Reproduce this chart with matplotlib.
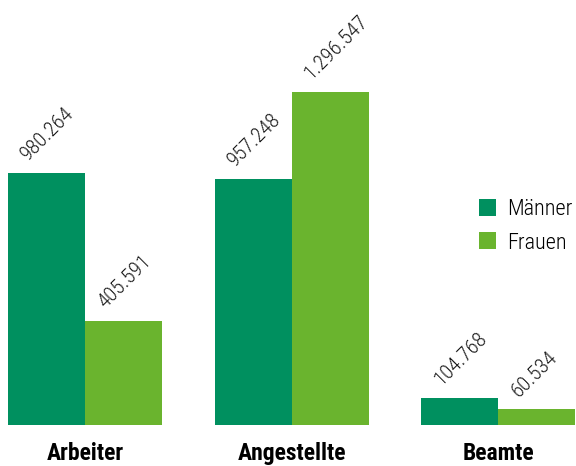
import numpy as np
import matplotlib.pyplot as plt
from matplotlib import font_manager

# data
categories = ['Arbeiter', 'Angestellte', 'Beamte']
maenner = [980264, 957248, 104768]
frauen = [405591, 1296547, 60534]
labels_m = ['980.264', '957.248', '104.768']
labels_f = ['405.591', '1.296.547', '60.534']

names = {f.name for f in font_manager.fontManager.ttflist}
fam = 'DejaVu Sans'
for cand in ['Roboto Condensed', 'Barlow Condensed', 'Archivo Narrow', 'Asap Condensed']:
    if cand in names:
        fam = cand
        break
plt.rcParams['font.family'] = [fam, 'DejaVu Sans']

c_m = '#00905F'
c_f = '#6AB42E'

fig = plt.figure(figsize=(5.76, 4.66), dpi=100)
ax = fig.add_axes([8 / 576, 41 / 466, 567 / 576, 425 / 466])

x = np.arange(len(categories))
w = 77 / 206.5
bm = ax.bar(x - w / 2, maenner, w, color=c_m, label='Männer')
bf = ax.bar(x + w / 2, frauen, w, color=c_f, label='Frauen')

ax.set_xlim(-w, 2 + w)
ax.set_ylim(0, max(frauen) * 425 / 333)

for bars, labs in ((bm, labels_m), (bf, labels_f)):
    for b, t in zip(bars, labs):
        ax.annotate(t, (b.get_x(), b.get_height()), xytext=(23, 9),
                    textcoords='offset pixels', rotation=45,
                    rotation_mode='anchor', ha='left', va='bottom',
                    fontsize=15, fontweight='light', color='#1a1a1a')

ax.set_xticks(x)
ax.set_xticklabels(categories, fontsize=17, fontweight='bold')
ax.tick_params(axis='x', length=0, pad=12)
ax.set_yticks([])
for s in ax.spines.values():
    s.set_visible(False)

fig.legend(loc='upper left', bbox_to_anchor=(479 / 576, 1 - 199 / 466),
           frameon=False, handlelength=0.75, handleheight=0.8,
           handletextpad=0.5, labelspacing=0.55, borderaxespad=0,
           borderpad=0, prop={'family': fam, 'weight': 'light', 'size': 16})

fig.savefig('out.png', dpi=100)
